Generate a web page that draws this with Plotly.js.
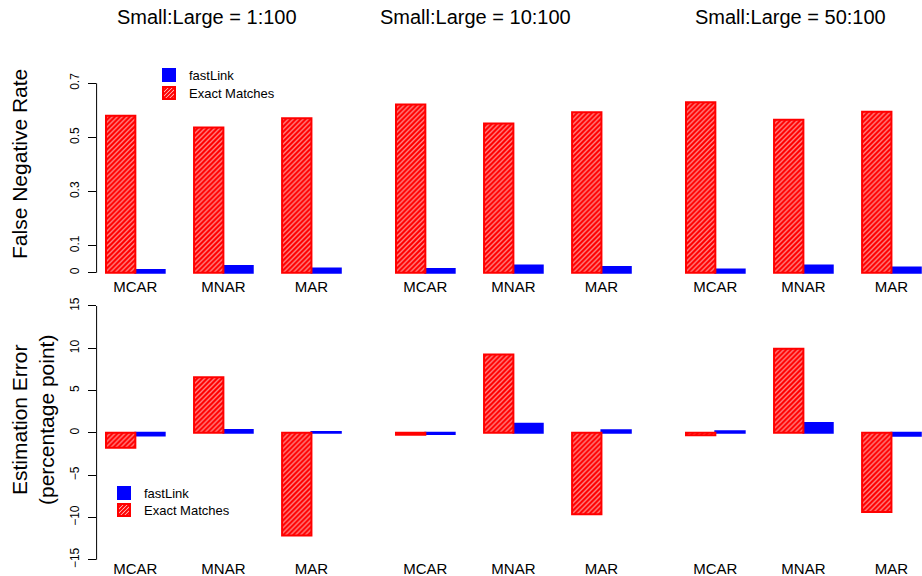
<!DOCTYPE html>
<html>
<head>
<meta charset="utf-8">
<script src="https://cdn.plot.ly/plotly-3.0.1.min.js"></script>
<style>html,body{margin:0;padding:0;background:#fff;}#chart{width:922px;height:576px;}</style>
</head>
<body>
<div id="chart"></div>
<script>
// ---- data ----
const categories = ['MCAR', 'MNAR', 'MAR'];
const ratioTitles = ['Small:Large = 1:100', 'Small:Large = 10:100', 'Small:Large = 50:100'];
const seriesNames = ['fastLink', 'Exact Matches'];
// False negative rate, one array per ratio panel (MCAR, MNAR, MAR)
const fnrFastLink = [[0.010, 0.025, 0.016], [0.014, 0.027, 0.021], [0.012, 0.027, 0.019]];
const fnrExact    = [[0.580, 0.537, 0.571], [0.622, 0.551, 0.593], [0.630, 0.565, 0.595]];
// Estimation error (percentage point)
const errFastLink = [[-0.30, 0.33, 0.10], [-0.15, 1.07, 0.30], [0.18, 1.15, -0.35]];
const errExact    = [[-1.75, 6.56, -12.15], [-0.22, 9.26, -9.62], [-0.28, 9.95, -9.37]];
const fnrTicks = [0, 0.1, 0.3, 0.5, 0.7];
const errTicks = [-15, -10, -5, 0, 5, 10, 15];

// ---- layout geometry (pixels) ----
const W = 922, H = 576;
const unit = 29.35;              // px per bar width
const panelLeft = [96.6, 386.6, 676.6];
const xMin = 0.68, xMaxFull = 9.32;
const rows = [
  {top: 75.7, bottom: 280.3, range: [-0.028, 0.728], ticks: fnrTicks, title: 'False Negative Rate',
   catStandoff: -4, legendX: 149, legendY: [60, 78]},
  {top: 300.9, bottom: 564.8, range: [-15.6, 15.6], ticks: errTicks, title: 'Estimation Error<br>(percentage point)',
   catStandoff: -7, legendX: 104, legendY: [478, 495]}
];
const RED = '#ff0000', BLUE = '#0000ff';
const FONT = 'Liberation Sans, Arial, Helvetica, sans-serif';

const redX = categories.map((c, i) => 3 * i + 1.5);
const blueX = categories.map((c, i) => 3 * i + 2.5);
const catCenters = categories.map((c, i) => 3 * i + 2);

const data = [];
const layout = {
  width: W, height: H,
  margin: {l: 0, r: 0, t: 0, b: 0},
  paper_bgcolor: '#fff', plot_bgcolor: 'rgba(0,0,0,0)',
  barmode: 'overlay',
  showlegend: true,
  hovermode: false,
  font: {family: FONT, color: '#000'},
  annotations: [], shapes: []
};

rows.forEach((row, r) => {
  const vals = r === 0 ? [fnrFastLink, fnrExact] : [errFastLink, errExact];
  for (let p = 0; p < 3; p++) {
    const idx = r * 3 + p + 1;
    const sfx = idx === 1 ? '' : String(idx);
    const leftPx = panelLeft[p];
    let rightPx = leftPx + (xMaxFull - xMin) * unit;
    let xMax = xMaxFull;
    if (rightPx > W) { xMax = xMin + (W - leftPx) / unit; rightPx = W; }
    layout['xaxis' + sfx] = {
      domain: [leftPx / W, rightPx / W], range: [xMin, xMax],
      anchor: 'y' + sfx, showgrid: false, zeroline: false, showline: false,
      tickmode: 'array', tickvals: catCenters, ticktext: categories, ticks: '',
      ticklabelstandoff: row.catStandoff,
      tickfont: {size: 15, family: FONT, color: '#000'}, fixedrange: true
    };
    const yax = {
      domain: [1 - row.bottom / H, 1 - row.top / H], range: row.range,
      anchor: 'x' + sfx, showgrid: false, zeroline: false, showline: false,
      fixedrange: true
    };
    if (p === 0) {
      Object.assign(yax, {
        tickmode: 'array', tickvals: row.ticks, ticks: 'outside', ticklen: 8,
        tickwidth: 1, tickcolor: '#000', tickangle: -90, ticklabelstandoff: 4,
        tickfont: {size: 12, family: FONT, color: '#000'}
      });
      layout.shapes.push({
        type: 'line', xref: 'x' + sfx + ' domain', yref: 'y' + sfx,
        x0: 0, x1: 0, y0: row.ticks[0], y1: row.ticks[row.ticks.length - 1],
        line: {color: '#000', width: 1}
      });
    } else {
      yax.visible = false;
    }
    layout['yaxis' + sfx] = yax;

    const legA = r === 0 ? 'legend' : 'legend3';
    const legB = r === 0 ? 'legend2' : 'legend4';
    data.push({
      type: 'bar', name: seriesNames[0], x: blueX, y: vals[0][p], width: 1,
      xaxis: 'x' + sfx, yaxis: 'y' + sfx,
      marker: {color: BLUE, line: {color: BLUE, width: 2}},
      showlegend: p === 0, legend: legA
    });
    data.push({
      type: 'bar', name: seriesNames[1], x: redX, y: vals[1][p], width: 1,
      xaxis: 'x' + sfx, yaxis: 'y' + sfx,
      marker: {color: RED, line: {color: RED, width: 2},
        pattern: {shape: '/', fgcolor: RED, bgcolor: '#ffffff', size: 3.5, solidity: 0.8, fillmode: 'replace'}},
      showlegend: p === 0, legend: legB
    });
  }
  const legNames = r === 0 ? ['legend', 'legend2'] : ['legend3', 'legend4'];
  legNames.forEach((ln, k) => {
    layout[ln] = {x: row.legendX / W, y: 1 - row.legendY[k] / H, xanchor: 'left', yanchor: 'top',
      bgcolor: 'rgba(0,0,0,0)', font: {size: 13, family: FONT, color: '#000'}};
  });
});

// panel titles
const titleCenters = [206.5, 475.5, 790];
ratioTitles.forEach((t, p) => {
  layout.annotations.push({
    text: t, xref: 'paper', yref: 'paper', x: titleCenters[p] / W, y: 1 - 17 / H,
    xanchor: 'center', yanchor: 'middle', showarrow: false,
    font: {size: 20, family: FONT, color: '#000'}
  });
});
// y titles
layout.annotations.push({
  text: rows[0].title, xref: 'paper', yref: 'paper', x: 19 / W, y: 1 - 164 / H,
  xanchor: 'center', yanchor: 'middle', textangle: -90, showarrow: false,
  font: {size: 21, family: FONT, color: '#000'}
});
layout.annotations.push({
  text: rows[1].title, xref: 'paper', yref: 'paper', x: 33 / W, y: 1 - 420 / H,
  xanchor: 'center', yanchor: 'middle', textangle: -90, showarrow: false,
  font: {size: 21, family: FONT, color: '#000'}
});

Plotly.newPlot('chart', data, layout, {displayModeBar: false, staticPlot: true});
</script>
</body>
</html>
